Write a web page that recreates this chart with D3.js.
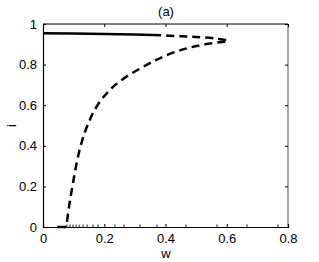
<!DOCTYPE html>
<html>
<head>
<meta charset="utf-8">
<script src="https://cdn.jsdelivr.net/npm/d3@7"></script>
<style>
  body { margin: 0; background: #fff; }
  text { font-family: "Liberation Sans", Arial, sans-serif; }
</style>
</head>
<body>
<script>
// stable branch (solid)
const stableW = [0, 0.1, 0.2, 0.3, 0.36];
const stableI = [0.955, 0.953, 0.951, 0.948, 0.946];
// unstable branch (dashed): upper part out to the turning point, then lower part back to i=0
const unstableW = [0.36, 0.45, 0.513, 0.57, 0.604, 0.53, 0.47, 0.41, 0.34, 0.236, 0.178, 0.145, 0.123, 0.108, 0.096, 0.085, 0.076];
const unstableI = [0.946, 0.94, 0.935, 0.927, 0.918, 0.9, 0.88, 0.85, 0.8, 0.7, 0.6, 0.5, 0.4, 0.3, 0.2, 0.1, 0];
// trivial state i=0
const zeroW = [0.046, 0.076];
const dotW = [0.078, 0.088, 0.098, 0.108, 0.118, 0.131, 0.144, 0.163, 0.18, 0.235, 0.264, 0.317, 0.372, 0.467, 0.568, 0.666, 0.767];

const xTicks = [0, 0.2, 0.4, 0.6, 0.8];
const yTicks = [0, 0.2, 0.4, 0.6, 0.8, 1];

const baseWidth = 319, baseHeight = 262;
const margin = { top: 24, right: 31, bottom: 35, left: 43 };
const width = baseWidth - margin.left - margin.right;
const height = baseHeight - margin.top - margin.bottom;

const x = d3.scaleLinear().domain([0, 0.8]).range([0, width]);
const y = d3.scaleLinear().domain([0, 1]).range([height, 0]);

const svg = d3.select("body").append("svg")
  .attr("width", baseWidth)
  .attr("height", baseHeight);

const chart = svg.append("g")
  .attr("transform", "translate(" + margin.left + "," + margin.top + ")");

// box
chart.append("line").attr("x1", 0).attr("x2", width).attr("y1", 0).attr("y2", 0)
  .attr("stroke", "#000").attr("stroke-width", 1);
chart.append("line").attr("x1", width).attr("x2", width).attr("y1", 0).attr("y2", height)
  .attr("stroke", "#888").attr("stroke-width", 1.5);

// axes, ticks inside like matlab
chart.append("g")
  .attr("transform", "translate(0," + height + ")")
  .call(d3.axisBottom(x).tickValues(xTicks).tickSize(-3).tickPadding(7).tickFormat(d3.format("")))
  .call((g) => g.select(".domain").attr("stroke-width", 1.2));
chart.append("g")
  .call(d3.axisLeft(y).tickValues(yTicks).tickSize(-3).tickPadding(6).tickFormat(d3.format("")))
  .call((g) => g.select(".domain").attr("stroke-width", 1.2));

// top and right ticks
chart.append("g")
  .call(d3.axisTop(x).tickValues(xTicks).tickSize(-3).tickFormat(""))
  .call((g) => g.select(".domain").remove());
chart.append("g")
  .attr("transform", "translate(" + width + ",0)")
  .call(d3.axisRight(y).tickValues(yTicks).tickSize(-3).tickFormat(""))
  .call((g) => g.select(".domain").remove());

chart.selectAll(".tick text").attr("font-size", 13).attr("fill", "#000")
  .style("font-family", "'Liberation Sans', Arial, sans-serif");

const line = d3.line().x((d) => x(d[0])).y((d) => y(d[1]));

chart.append("path")
  .datum(stableW.map((w, k) => [w, stableI[k]]))
  .attr("d", line)
  .attr("fill", "none")
  .attr("stroke", "#000")
  .attr("stroke-width", 2.5);

chart.append("path")
  .datum(unstableW.map((w, k) => [w, unstableI[k]]))
  .attr("d", d3.line().curve(d3.curveCatmullRom.alpha(0.5)).x((d) => x(d[0])).y((d) => y(d[1])))
  .attr("fill", "none")
  .attr("stroke", "#000")
  .attr("stroke-width", 2.5)
  .attr("stroke-dasharray", "8,5");

chart.append("path")
  .datum(zeroW.map((w) => [w, 0]))
  .attr("d", line)
  .attr("fill", "none")
  .attr("stroke", "#000")
  .attr("stroke-width", 2.5);

chart.selectAll(".dot")
  .data(dotW)
  .enter()
  .append("rect")
  .attr("class", "dot")
  .attr("x", (d) => x(d) - 0.6)
  .attr("y", y(0) - 2.5)
  .attr("width", 1.2)
  .attr("height", 3)
  .attr("fill", "#444");

// labels
svg.append("text")
  .attr("x", 166).attr("y", 16)
  .attr("text-anchor", "middle")
  .attr("font-size", 13)
  .text("(a)");

svg.append("text")
  .attr("x", 166).attr("y", 258)
  .attr("text-anchor", "middle")
  .attr("font-size", 13)
  .text("w");

svg.append("text")
  .attr("transform", "translate(16," + (margin.top + height / 2) + ") rotate(-90)")
  .attr("text-anchor", "middle")
  .attr("font-size", 13)
  .text("i");
</script>
</body>
</html>
